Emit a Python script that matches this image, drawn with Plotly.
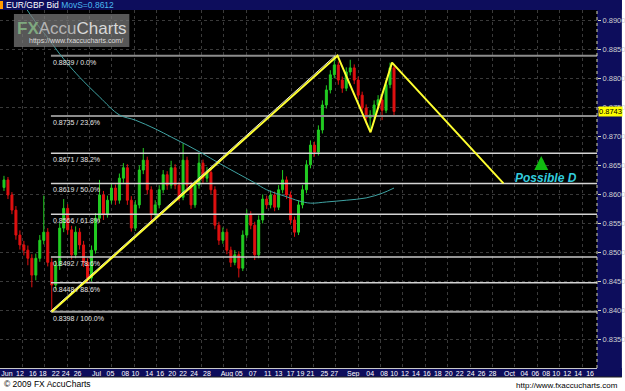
import plotly.graph_objects as go

# ---------------- data ----------------
bars = list(range(99))
opens = [0.8612, 0.8625, 0.8599, 0.8573, 0.8530, 0.8513, 0.8504, 0.8490, 0.8461, 0.8490,
         0.8521, 0.8535, 0.8483, 0.8444, 0.8478, 0.8542, 0.8576, 0.8539, 0.8496, 0.8535,
         0.8513, 0.8483, 0.8456, 0.8504, 0.8559, 0.8599, 0.8565, 0.8590, 0.8611, 0.8590,
         0.8628, 0.8646, 0.8590, 0.8542, 0.8582, 0.8642, 0.8659, 0.8608, 0.8565, 0.8582,
         0.8608, 0.8634, 0.8616, 0.8646, 0.8616, 0.8595, 0.8659, 0.8616, 0.8582, 0.8616,
         0.8654, 0.8628, 0.8638, 0.8608, 0.8547, 0.8521, 0.8535, 0.8504, 0.8483, 0.8496,
         0.8473, 0.8530, 0.8565, 0.8547, 0.8496, 0.8556, 0.8592, 0.8582, 0.8599, 0.8578,
         0.8608, 0.8625, 0.8599, 0.8556, 0.8535, 0.8582, 0.8608, 0.8651, 0.8685, 0.8673,
         0.8711, 0.8754, 0.8780, 0.8806, 0.8823, 0.8797, 0.8783, 0.8811, 0.8818, 0.8797,
         0.8771, 0.8749, 0.8732, 0.8737, 0.8754, 0.8763, 0.8745, 0.8789, 0.8818]
highs = [0.8632, 0.8630, 0.8604, 0.8580, 0.8538, 0.8520, 0.8512, 0.8497, 0.8498, 0.8530,
         0.8598, 0.8542, 0.8490, 0.8486, 0.8551, 0.8592, 0.8583, 0.8546, 0.8545, 0.8542,
         0.8520, 0.8490, 0.8512, 0.8568, 0.8625, 0.8606, 0.8598, 0.8620, 0.8617, 0.8636,
         0.8654, 0.8652, 0.8597, 0.8590, 0.8650, 0.8680, 0.8665, 0.8614, 0.8590, 0.8616,
         0.8642, 0.8640, 0.8658, 0.8652, 0.8622, 0.8688, 0.8665, 0.8622, 0.8624, 0.8670,
         0.8660, 0.8647, 0.8644, 0.8614, 0.8553, 0.8543, 0.8541, 0.8510, 0.8504, 0.8502,
         0.8538, 0.8574, 0.8571, 0.8553, 0.8564, 0.8600, 0.8598, 0.8607, 0.8605, 0.8616,
         0.8642, 0.8631, 0.8605, 0.8562, 0.8590, 0.8616, 0.8659, 0.8693, 0.8691, 0.8719,
         0.8762, 0.8788, 0.8814, 0.8839, 0.8829, 0.8803, 0.8819, 0.8832, 0.8824, 0.8803,
         0.8777, 0.8755, 0.8745, 0.8762, 0.8771, 0.8769, 0.8797, 0.8827, 0.8822]
lows = [0.8606, 0.8592, 0.8566, 0.8522, 0.8505, 0.8495, 0.8478, 0.8440, 0.8452, 0.8484,
        0.8514, 0.8476, 0.8398, 0.8436, 0.8470, 0.8535, 0.8531, 0.8488, 0.8490, 0.8505,
        0.8475, 0.8447, 0.8450, 0.8498, 0.8552, 0.8556, 0.8560, 0.8584, 0.8582, 0.8584,
        0.8620, 0.8582, 0.8536, 0.8537, 0.8576, 0.8635, 0.8600, 0.8553, 0.8558, 0.8576,
        0.8602, 0.8608, 0.8610, 0.8609, 0.8588, 0.8590, 0.8609, 0.8575, 0.8577, 0.8610,
        0.8620, 0.8621, 0.8600, 0.8540, 0.8513, 0.8515, 0.8497, 0.8475, 0.8478, 0.8457,
        0.8468, 0.8525, 0.8540, 0.8487, 0.8490, 0.8550, 0.8575, 0.8576, 0.8571, 0.8573,
        0.8602, 0.8592, 0.8548, 0.8527, 0.8530, 0.8576, 0.8602, 0.8645, 0.8665, 0.8667,
        0.8705, 0.8748, 0.8774, 0.8800, 0.8789, 0.8775, 0.8778, 0.8805, 0.8790, 0.8764,
        0.8742, 0.8722, 0.8711, 0.8731, 0.8748, 0.8728, 0.8740, 0.8783, 0.8736]
closes = [0.8625, 0.8599, 0.8573, 0.8530, 0.8513, 0.8504, 0.8490, 0.8461, 0.8490, 0.8521,
          0.8535, 0.8483, 0.8444, 0.8478, 0.8542, 0.8576, 0.8539, 0.8496, 0.8535, 0.8513,
          0.8483, 0.8456, 0.8504, 0.8559, 0.8599, 0.8565, 0.8590, 0.8611, 0.8590, 0.8628,
          0.8646, 0.8590, 0.8542, 0.8582, 0.8642, 0.8659, 0.8608, 0.8565, 0.8582, 0.8608,
          0.8634, 0.8616, 0.8646, 0.8616, 0.8595, 0.8659, 0.8616, 0.8582, 0.8616, 0.8654,
          0.8628, 0.8638, 0.8608, 0.8547, 0.8521, 0.8535, 0.8504, 0.8483, 0.8496, 0.8473,
          0.8530, 0.8565, 0.8547, 0.8496, 0.8556, 0.8592, 0.8582, 0.8599, 0.8578, 0.8608,
          0.8625, 0.8599, 0.8556, 0.8535, 0.8582, 0.8608, 0.8651, 0.8685, 0.8673, 0.8711,
          0.8754, 0.8780, 0.8806, 0.8823, 0.8797, 0.8783, 0.8811, 0.8818, 0.8797, 0.8771,
          0.8749, 0.8732, 0.8737, 0.8754, 0.8763, 0.8745, 0.8789, 0.8818, 0.8743]

ma_bars = [5, 6, 9, 11, 14, 16, 19, 24, 29, 33, 38, 42, 46, 50, 54, 59, 63, 66, 71, 74, 77, 81, 86, 91, 95, 98]
ma_vals = [0.8926, 0.8916, 0.8887, 0.8870, 0.8842, 0.8825, 0.8802, 0.8768, 0.8737, 0.8728,
           0.8713, 0.8699, 0.8685, 0.8670, 0.8654, 0.8635, 0.8620, 0.8608, 0.8596, 0.8589,
           0.8585, 0.8587, 0.8590, 0.8594, 0.8602, 0.8611]

fib_levels = [0.8839, 0.8735, 0.8671, 0.8619, 0.8566, 0.8492, 0.8448, 0.8398]
fib_pcts = ["0.0%", "23.6%", "38.2%", "50.0%", "61.8%", "78.6%", "88.6%", "100.0%"]

pattern_bars = [12, 83.8, 92.1, 97.5, 125.5]
pattern_vals = [0.8398, 0.8839, 0.8707, 0.8827, 0.8619]

tick_labels = ["Jun", "12", "16", "18", "22", "24", "26", "Jul", "05", "08", "10", "14", "16",
               "20", "22", "24", "28", "Aug", "05", "07", "11", "13", "17", "19", "21", "25",
               "27", "Sep", "04", "08", "10", "12", "14", "16", "18", "20", "22", "24", "26",
               "28", "Oct", "04", "06", "08", "10", "12", "14", "16"]
tick_bars = [0.75, 4, 7.25, 9.75, 13, 15.5, 18.5, 23.25, 26.75, 30.5, 33, 36.5, 39.25,
             42.25, 45, 47.75, 51, 56, 59, 62.5, 66.25, 69, 72, 74.5, 77, 80.5,
             83, 87.75, 92, 95.5, 98, 100.75, 103.5, 106.25, 109, 111.75, 114.5, 117.25, 120,
             122.75, 127, 130.75, 133.5, 136.25, 138.75, 141.5, 144.25, 147.25]

last_price = 0.8743
ma_label = "MovS=0.8612"

# ---------------- figure ----------------
W, H = 625, 391
ML, MR, MT, MB = 0, 25, 10, 23
PW, PH = W - ML - MR, H - MT - MB
NAVY = "#0d0d5c"
FONT = "Liberation Sans, Arial, sans-serif"

fig = go.Figure()

# fib lines
fib_colors = ["#8c8c8c", "#8c8c8c", "#d4d4d4", "#d4d4d4", "#d4d4d4", "#c8c8c8", "#d4d4d4", "#a0a0a0"]
fib_widths = [2, 2, 1.5, 1.5, 1.5, 1.5, 1.5, 2]
for lvl, col, wd in zip(fib_levels, fib_colors, fib_widths):
    fig.add_trace(go.Scatter(x=[pattern_bars[0] - 0.2, 149], y=[lvl, lvl], mode="lines",
                             line=dict(color=col, width=wd), hoverinfo="skip", showlegend=False))

# moving average
fig.add_trace(go.Scatter(x=ma_bars, y=ma_vals, mode="lines", line=dict(color="#3fa3a3", width=1),
                         line_shape="spline", hoverinfo="skip", showlegend=False))

# candles
fig.add_trace(go.Candlestick(x=bars, open=opens, high=highs, low=lows, close=closes,
                             increasing=dict(line=dict(color="#22cc22", width=1), fillcolor="#22cc22"),
                             decreasing=dict(line=dict(color="#e01010", width=1), fillcolor="#e01010"),
                             whiskerwidth=0, showlegend=False, hoverinfo="skip"))

# thin white trendline next to the XA leg
fig.add_trace(go.Scatter(x=[pattern_bars[0] - 0.4, pattern_bars[1] - 0.6],
                         y=[pattern_vals[0], pattern_vals[1]], mode="lines",
                         line=dict(color="#e8e8e8", width=1), hoverinfo="skip", showlegend=False))
# yellow harmonic pattern
fig.add_trace(go.Scatter(x=pattern_bars, y=pattern_vals, mode="lines",
                         line=dict(color="#ffff30", width=2), hoverinfo="skip", showlegend=False))

def px_x(px):
    return (px - ML) / PW

def px_y(py):
    return (H - MB - py) / PH

shapes = [
    dict(type="rect", xref="paper", yref="paper", x0=px_x(0), x1=px_x(W), y0=px_y(MT), y1=px_y(0),
         fillcolor=NAVY, line=dict(width=0), layer="below"),
    dict(type="rect", xref="paper", yref="paper", x0=px_x(600), x1=px_x(W), y0=px_y(377), y1=px_y(0),
         fillcolor=NAVY, line=dict(width=0), layer="below"),
    dict(type="rect", xref="paper", yref="paper", x0=px_x(0), x1=px_x(W), y0=px_y(377), y1=px_y(368),
         fillcolor=NAVY, line=dict(width=0), layer="below"),
    dict(type="line", xref="paper", yref="paper", x0=px_x(0), x1=px_x(W), y0=px_y(377), y1=px_y(377),
         line=dict(color="#202020", width=1)),
    dict(type="rect", xref="paper", yref="paper", x0=px_x(0), x1=px_x(3), y0=px_y(9), y1=px_y(1),
         fillcolor="#ff9900", line=dict(width=0)),
    dict(type="line", xref="paper", yref="paper", x0=1, x1=1, y0=0, y1=1,
         line=dict(color="#d8d8b0", width=1, dash="dot")),
    dict(type="rect", xref="paper", yref="paper", x0=px_x(14), x1=px_x(130), y0=px_y(47), y1=px_y(14),
         fillcolor="rgba(120,120,120,0.72)", line=dict(width=0), layer="above"),
]

annotations = [
    dict(xref="paper", yref="paper", x=px_x(4), y=px_y(5), xanchor="left", yanchor="middle",
         text="EUR/GBP Bid <span style='color:#4ab8f0'>" + ma_label + "</span>",
         showarrow=False, font=dict(family=FONT, size=8.5, color="white")),
    dict(xref="paper", yref="paper", x=px_x(72), y=px_y(28), xanchor="center", yanchor="middle",
         text="<b><span style='color:#7fa87f'>FX</span></b><span style='color:#b4b4b4'>Accu</span><span style='color:#d8d8d8'>Charts</span>",
         showarrow=False, font=dict(family=FONT, size=17)),
    dict(xref="paper", yref="paper", x=px_x(76), y=px_y(41), xanchor="center", yanchor="middle",
         text="https://www.fxaccucharts.com/", showarrow=False,
         font=dict(family=FONT, size=7, color="#dcdcdc")),
    dict(xref="paper", yref="y", x=px_x(601), y=last_price, xanchor="left", yanchor="middle",
         text=f"{last_price:.4f}", showarrow=False, bgcolor="#ffff00",
         borderpad=0, font=dict(family=FONT, size=7.5, color="black")),
]
for lvl, pct in zip(fib_levels, fib_pcts):
    annotations.append(dict(xref="x", yref="y", x=pattern_bars[0] - 0.2, y=lvl, xanchor="left", yanchor="top",
                            yshift=-1, text=f"{lvl:.4f} / {pct}", showarrow=False,
                            font=dict(family=FONT, size=7, color="#e6e6e6")))
annotations += [
    dict(xref="paper", yref="paper", x=px_x(549), y=px_y(178), xanchor="center", yanchor="middle",
         text="<b><i>Possible D</i></b>", showarrow=False,
         font=dict(family=FONT, size=12, color="#33ccdd")),
    dict(xref="paper", yref="paper", x=px_x(544), y=px_y(156), ax=0, ay=15, text="",
         showarrow=True, arrowhead=2, arrowsize=0.7, arrowwidth=4, arrowcolor="#11bb11"),
    dict(xref="paper", yref="paper", x=px_x(2), y=px_y(384), xanchor="left", yanchor="middle",
         text="© 2009 FX AccuCharts", showarrow=False, font=dict(family=FONT, size=8.5, color="black")),
    dict(xref="paper", yref="paper", x=px_x(623), y=px_y(385), xanchor="right", yanchor="middle",
         text="http://www.fxaccucharts.com", showarrow=False, font=dict(family=FONT, size=8, color="black")),
]

fig.update_layout(
    width=W, height=H, margin=dict(l=ML, r=MR, t=MT, b=MB, pad=0),
    paper_bgcolor="white", plot_bgcolor="black",
    showlegend=False, hovermode=False,
    shapes=shapes, annotations=annotations,
    xaxis=dict(range=[-1, 149], tickmode="array", tickvals=tick_bars, ticktext=tick_labels,
               tickangle=0, showgrid=False, zeroline=False, rangeslider=dict(visible=False),
               tickfont=dict(family=FONT, size=7, color="white"), ticks="", ticklen=0,
               ticklabelstandoff=-1,
               showline=True, linecolor="#c8c8c8", linewidth=1,
               minor=dict(tickmode="linear", tick0=-1, dtick=5.625, showgrid=True,
                          gridcolor="#3a3a3a", griddash="dot", gridwidth=1)),
    yaxis=dict(range=[0.83010, 0.89177], side="right", tickmode="linear", tick0=0.8300, dtick=0.005,
               tickformat=".4f", showgrid=True, gridcolor="#3a3a3a", griddash="dot", zeroline=False,
               ticks="outside", ticklen=3, tickcolor="#d8d8b0",
               tickfont=dict(family=FONT, size=7.5, color="#d0d0d0")),
)

fig.write_html("out.html")
